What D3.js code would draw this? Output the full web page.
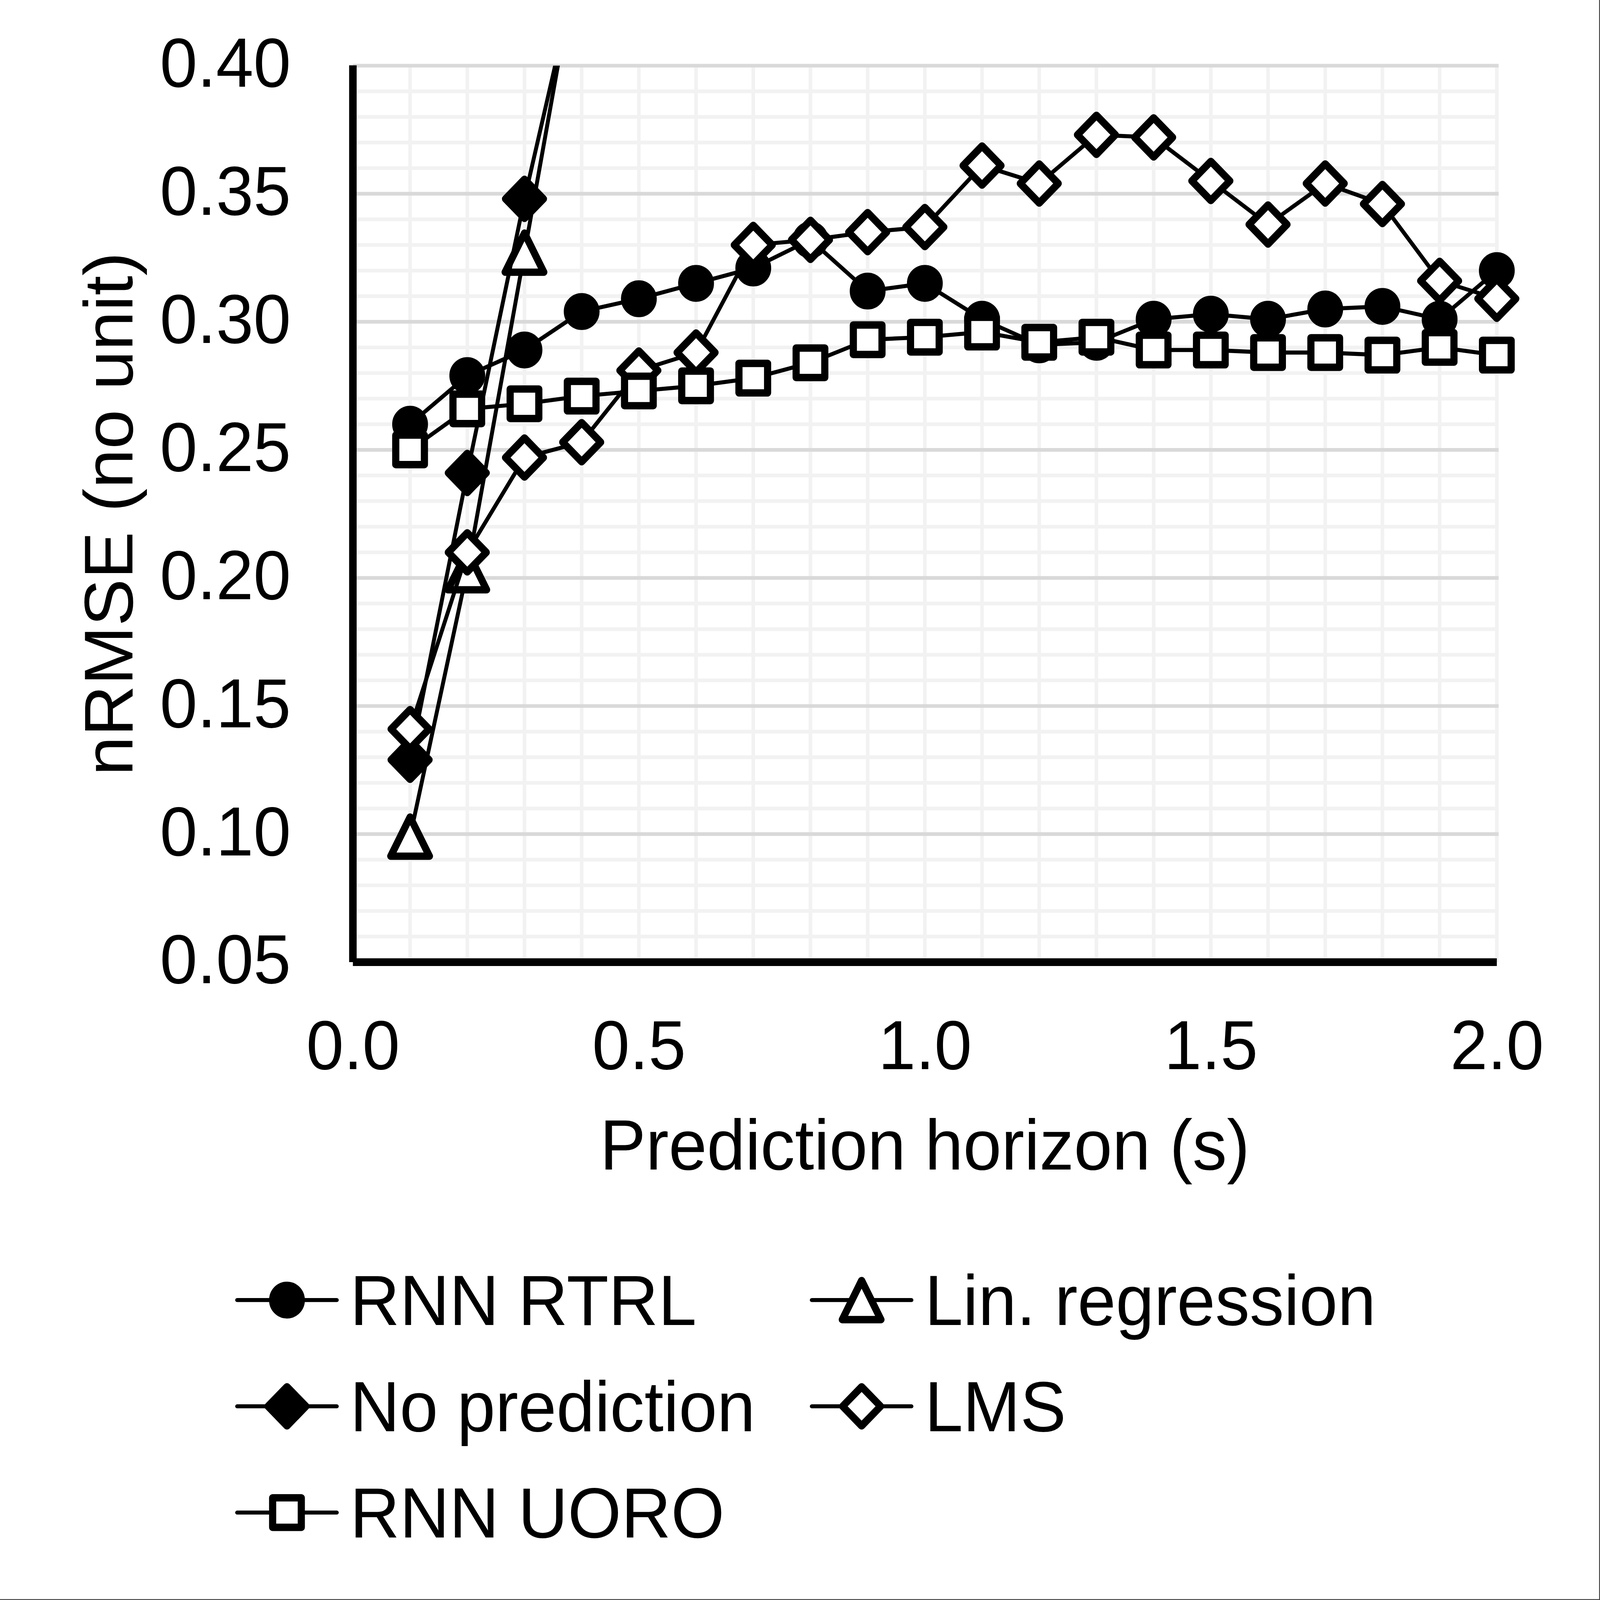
<!DOCTYPE html>
<html>
<head>
<meta charset="utf-8">
<script src="https://cdn.jsdelivr.net/npm/d3@7"></script>
<style>
  html, body { margin: 0; padding: 0; background: #fff; overflow: hidden; }
  svg { display: block; width: 100vw; height: 100vh; }
  text { font-family: "Liberation Sans", Arial, sans-serif; fill: #000; }
</style>
</head>
<body>
<div id="chart"></div>
<script>
// horizon (s)
var horizons = [0.1, 0.2, 0.3, 0.4, 0.5, 0.6, 0.7, 0.8, 0.9, 1.0, 1.1, 1.2, 1.3, 1.4, 1.5, 1.6, 1.7, 1.8, 1.9, 2.0];

var rnnRtrl = [0.260, 0.279, 0.289, 0.304, 0.309, 0.315, 0.321, 0.332, 0.312, 0.315, 0.301, 0.291, 0.292, 0.301, 0.303, 0.301, 0.305, 0.306, 0.301, 0.320];
var linRegression = [0.099, 0.203, 0.327, 0.452, null, null, null, null, null, null, null, null, null, null, null, null, null, null, null, null];
var noPrediction = [0.129, 0.241, 0.348, 0.445, null, null, null, null, null, null, null, null, null, null, null, null, null, null, null, null];
var lms = [0.141, 0.210, 0.247, 0.253, 0.281, 0.288, 0.330, 0.332, 0.335, 0.337, 0.361, 0.354, 0.373, 0.372, 0.355, 0.338, 0.354, 0.346, 0.316, 0.309];
var rnnUoro = [0.250, 0.266, 0.268, 0.271, 0.273, 0.275, 0.278, 0.284, 0.293, 0.294, 0.296, 0.292, 0.294, 0.289, 0.289, 0.288, 0.288, 0.287, 0.290, 0.287];

var seriesNames = ['RNN RTRL', 'Lin. regression', 'No prediction', 'LMS', 'RNN UORO'];
var seriesShapes = ['circle', 'triangle', 'diamondFilled', 'diamond', 'square'];

var xTicks = [0.0, 0.5, 1.0, 1.5, 2.0];
var yTicks = [0.05, 0.10, 0.15, 0.20, 0.25, 0.30, 0.35, 0.40];

var width = 4466;
var height = 4337;
var plot = { left: 985, right: 4178, top: 178, bottom: 2608 };

var xScale = d3.scaleLinear().domain([0, 2]).range([plot.left, plot.right]);
var yScale = d3.scaleLinear().domain([0.05, 0.40]).range([plot.bottom, plot.top]);

// the svg is laid out in picture pixels and stretched to the window
var svg = d3.select('#chart').append('svg')
    .attr('viewBox', '0 0 ' + width + ' ' + height)
    .attr('preserveAspectRatio', 'none');

svg.append('defs').append('clipPath').attr('id', 'plot-clip')
    .append('rect')
    .attr('x', plot.left)
    .attr('y', plot.top)
    .attr('width', plot.right - plot.left + 80)
    .attr('height', plot.bottom - plot.top);

// gridlines: minor every 0.01, major every 0.05
var minorY = d3.range(5, 41).map(d => d / 100);
svg.append('g').selectAll('line')
    .data(minorY.filter(d => Math.round(d * 100) % 5 != 0))
    .enter().append('line')
    .attr('x1', plot.left).attr('x2', plot.right + 5)
    .attr('y1', d => yScale(d)).attr('y2', d => yScale(d))
    .attr('stroke', '#f2f2f2').attr('stroke-width', 10);

svg.append('g').selectAll('line')
    .data(d3.range(1, 21).map(d => d / 10))
    .enter().append('line')
    .attr('x1', d => xScale(d)).attr('x2', d => xScale(d))
    .attr('y1', plot.top).attr('y2', plot.bottom)
    .attr('stroke', '#f2f2f2').attr('stroke-width', 10);

svg.append('g').selectAll('line')
    .data(yTicks.slice(1))
    .enter().append('line')
    .attr('x1', plot.left).attr('x2', plot.right + 5)
    .attr('y1', d => yScale(d)).attr('y2', d => yScale(d))
    .attr('stroke', '#d9d9d9').attr('stroke-width', 10);

// axes
var yAxis = d3.axisLeft(yScale).tickValues(yTicks).tickFormat(d3.format('.2f')).tickSize(0).tickPadding(173);
var gy = svg.append('g').attr('transform', 'translate(' + plot.left + ',0)').call(yAxis);
gy.select('.domain').remove();
gy.selectAll('text')
    .attr('font-size', 188)
    .attr('dy', null)
    .attr('y', 57)
    .style('font-family', '"Liberation Sans", Arial, sans-serif');

var xAxis = d3.axisBottom(xScale).tickValues(xTicks).tickFormat(d3.format('.1f')).tickSize(0).tickPadding(0);
var gx = svg.append('g').attr('transform', 'translate(0,' + plot.bottom + ')').call(xAxis);
gx.select('.domain').remove();
gx.selectAll('text')
    .attr('font-size', 188)
    .attr('dy', null)
    .attr('y', 290)
    .style('font-family', '"Liberation Sans", Arial, sans-serif');

svg.append('line')
    .attr('x1', plot.left).attr('x2', plot.left)
    .attr('y1', plot.top - 1).attr('y2', plot.bottom)
    .attr('stroke', '#000').attr('stroke-width', 21);
svg.append('line')
    .attr('x1', plot.left).attr('x2', plot.right)
    .attr('y1', plot.bottom).attr('y2', plot.bottom)
    .attr('stroke', '#000').attr('stroke-width', 21);

// axis titles
svg.append('text')
    .attr('x', (plot.left + plot.right) / 2)
    .attr('y', 3170)
    .attr('text-anchor', 'middle')
    .attr('font-size', 192)
    .text('Prediction horizon (s)');

svg.append('text')
    .attr('transform', 'translate(370,' + (plot.top + plot.bottom) / 2 + ') rotate(-90)')
    .attr('text-anchor', 'middle')
    .attr('font-size', 192)
    .text('nRMSE (no unit)');

// marker drawing
function drawMarker(g, shape) {
    if (shape == 'circle') {
        g.append('circle').attr('r', 40).attr('fill', '#000').attr('stroke', '#000').attr('stroke-width', 20);
    } else if (shape == 'square') {
        g.append('rect').attr('x', -40).attr('y', -40).attr('width', 80).attr('height', 80)
            .attr('fill', '#fff').attr('stroke', '#000').attr('stroke-width', 20).attr('stroke-linejoin', 'round');
    } else if (shape == 'diamond' || shape == 'diamondFilled') {
        g.append('path').attr('d', 'M0,-53L53,0L0,53L-53,0Z')
            .attr('fill', shape == 'diamond' ? '#fff' : '#000')
            .attr('stroke', '#000').attr('stroke-width', 20).attr('stroke-linejoin', 'round');
    } else if (shape == 'triangle') {
        g.append('path').attr('d', 'M0,-53L54,53L-54,53Z')
            .attr('fill', '#fff').attr('stroke', '#000').attr('stroke-width', 20).attr('stroke-linejoin', 'round');
    }
}

var allSeries = [rnnRtrl, linRegression, noPrediction, lms, rnnUoro];

var line = d3.line()
    .defined(d => d.v != null)
    .x(d => xScale(d.x))
    .y(d => yScale(d.v));

allSeries.forEach(function(values, i) {
    var pts = horizons.map((x, j) => ({ x: x, v: values[j] }));
    var g = svg.append('g').attr('class', 'series');

    g.append('path')
        .datum(pts)
        .attr('d', line)
        .attr('clip-path', 'url(#plot-clip)')
        .attr('fill', 'none')
        .attr('stroke', '#000')
        .attr('stroke-width', 11)
        .attr('stroke-linejoin', 'round');

    g.selectAll('g.marker')
        .data(pts.filter(d => d.v != null && d.v <= 0.40))
        .enter().append('g')
        .attr('class', 'marker')
        .attr('transform', d => 'translate(' + xScale(d.x) + ',' + yScale(d.v) + ')')
        .each(function() { drawMarker(d3.select(this), seriesShapes[i]); });
});

// legend (2 columns, row-major)
var legendCols = [801, 2405];
var legendRow0 = 3524;
var legendRowStep = 288;

seriesNames.forEach(function(name, i) {
    var cx = legendCols[i % 2];
    var cy = legendRow0 + Math.floor(i / 2) * legendRowStep;
    var lg = svg.append('g').attr('transform', 'translate(' + cx + ',' + cy + ')');

    lg.append('line')
        .attr('x1', -139).attr('x2', 139)
        .attr('stroke', '#000').attr('stroke-width', 11).attr('stroke-linecap', 'round');
    drawMarker(lg, seriesShapes[i]);
    lg.append('text')
        .attr('x', 176)
        .attr('y', 68)
        .attr('font-size', 192)
        .text(name);
});

// picture border
svg.append('line').attr('x1', width - 1).attr('x2', width - 1).attr('y1', 0).attr('y2', height)
    .attr('stroke', '#404040').attr('stroke-width', 3);
svg.append('line').attr('x1', 0).attr('x2', width).attr('y1', height - 1).attr('y2', height - 1)
    .attr('stroke', '#404040').attr('stroke-width', 3);
</script>
</body>
</html>
